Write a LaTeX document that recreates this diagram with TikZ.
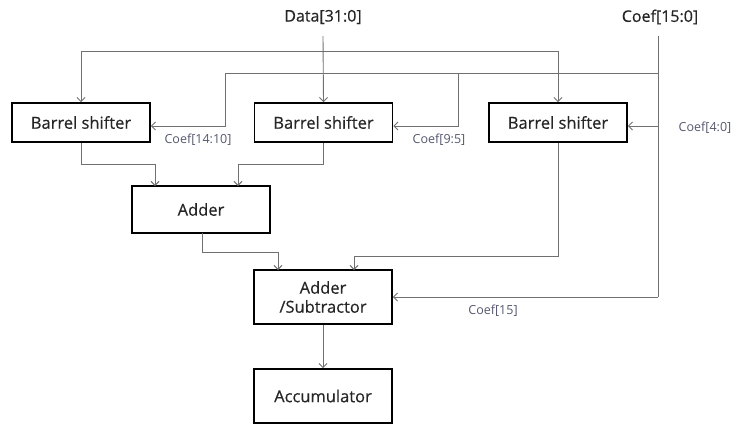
\documentclass[tikz,border=0pt]{standalone}
\usepackage{fontspec}
\setmainfont{Open Sans}
\newfontfamily\boxfont[FakeBold=0.5]{Open Sans}
\usetikzlibrary{arrows.meta}
\definecolor{wire}{RGB}{112,112,112}
\definecolor{lbl}{RGB}{85,88,110}
\begin{document}
\begin{tikzpicture}[x=1pt,y=-1pt,
  blk/.style={draw=black,line width=1.8pt,minimum width=138pt,minimum height=39pt,inner sep=0pt,font=\boxfont\fontsize{16.5}{18}\selectfont,text=black!85,align=center},
  wire/.style={draw=wire,line width=0.9pt},
  arr/.style={wire,-{Straight Barb[length=4pt,width=8pt]}},
  sig/.style={font=\boxfont\fontsize{16}{18}\selectfont,text=black!85,inner sep=0pt},
  sub/.style={font=\fontsize{12.5}{14}\selectfont,text=lbl,inner sep=0pt}]
\useasboundingbox (0,0) rectangle (737,426);
% blocks
\node[blk] (bs1) at (81,122.5) {Barrel shifter};
\node[blk] (bs2) at (323.5,122.5) {Barrel shifter};
\node[blk] (bs3) at (558,122.5) {Barrel shifter};
\node[blk,minimum height=47pt] (add) at (201,209.5) {Adder};
\node[blk,minimum height=54pt] (as) at (323,297) {Adder\\[1pt]/Subtractor};
\node[blk,minimum height=54pt] (acc) at (323,396) {Accumulator};
% signal labels
\node[sig] (data) at (323,17) {Data[31:0]};
\node[sig] (coef) at (660,17) {Coef[15:0]};
\node[sub] (l1) at (198,140) {Coef[14:10]};
\node[sub] (l2) at (439,140) {Coef[9:5]};
\node[sub] (l3) at (705,128) {Coef[4:0]};
\node[sub] (l4) at (493,311) {Coef[15]};
% coordinates
\coordinate (dtop) at (323,36);
\coordinate (d1) at (323,51);
\coordinate (ctop) at (658,36);
\coordinate (c2) at (658,73);
\coordinate (c3) at (658,126);
\coordinate (cbot) at (658,297);
\coordinate (lvl) at (0,126);
\coordinate (j1) at (225,73);
\coordinate (j2) at (458,73);
% data distribution
\draw[arr] (dtop) -- (bs2.north);
\draw[arr] (d1) -| (bs1.north);
\draw[arr] (d1) -| (bs3.north);
% coefficient distribution
\draw[wire] (ctop) -- (cbot);
\draw[wire] (c2) -- (j1);
\draw[arr] (j1) |- (bs1.east |- lvl);
\draw[arr] (j2) |- (bs2.east |- lvl);
\draw[arr] (c3) -- (bs3.east |- c3);
\draw[arr] (cbot) -- (as.east);
% datapath
\draw[arr] (bs1.south) |- (155,164) -- (155,186);
\draw[arr] (bs2.south) |- (238,164) -- (238,186);
\draw[arr] (202,233) |- (278,252) -- (278,270);
\draw[arr] (bs3.south) |- (354,256) -- (354,270);
\draw[arr] (as.south) -- (acc.north);
\end{tikzpicture}
\end{document}
